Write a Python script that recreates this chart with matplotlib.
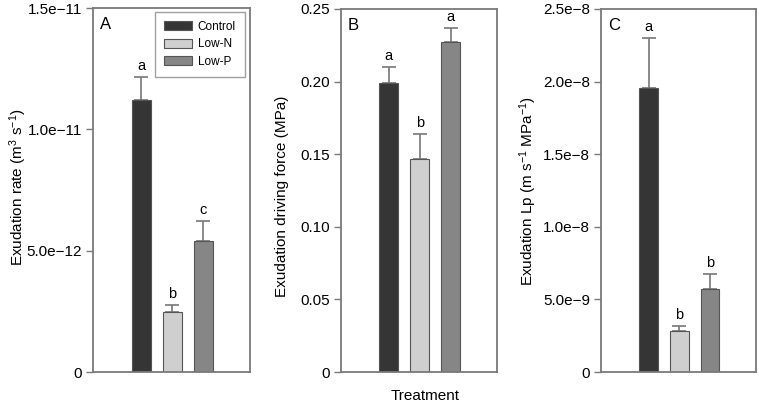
import matplotlib
matplotlib.use("Agg")
import matplotlib.pyplot as plt
from matplotlib.patches import Patch

plt.rcParams['font.family'] = ['Liberation Sans', 'DejaVu Sans']
plt.rcParams['mathtext.default'] = 'regular'

treatments = ["Control", "Low-N", "Low-P"]
colors = ["#353535", "#cfcfcf", "#868686"]

rate = [1.121e-11, 2.48e-12, 5.39e-12]
rate_err = [0.095e-11, 0.28e-12, 0.82e-12]
rate_letters = ["a", "b", "c"]
rate_ticks = [0, 5e-12, 1e-11, 1.5e-11]
rate_ticklabels = ["0", "5.0e\u221212", "1.0e\u221211", "1.5e\u221211"]

force = [0.1988, 0.1469, 0.2273]
force_err = [0.011, 0.017, 0.0096]
force_letters = ["a", "b", "a"]
force_ticks = [0, 0.05, 0.10, 0.15, 0.20, 0.25]
force_ticklabels = ["0", "0.05", "0.10", "0.15", "0.20", "0.25"]

lp = [1.959e-8, 2.80e-9, 5.73e-9]
lp_err = [0.34e-8, 0.36e-9, 0.99e-9]
lp_letters = ["a", "b", "b"]
lp_ticks = [0, 5e-9, 1e-8, 1.5e-8, 2e-8, 2.5e-8]
lp_ticklabels = ["0", "5.0e\u22129", "1.0e\u22128", "1.5e\u22128", "2.0e\u22128", "2.5e\u22128"]

W, H = 759, 405
fig = plt.figure(figsize=(W / 100, H / 100), dpi=100)

def ax_at(x0, x1, y0, y1):
    return fig.add_axes([x0 / W, 1 - y1 / H, (x1 - x0) / W, (y1 - y0) / H])

panels = [
    (ax_at(93, 250, 8, 372), rate, rate_err, rate_letters, rate_ticks, rate_ticklabels,
     "Exudation rate (m$^3$ s$^{\u22121}$)", "A", (-0.478, 0.507)),
    (ax_at(341, 497, 9, 372), force, force_err, force_letters, force_ticks, force_ticklabels,
     "Exudation driving force (MPa)", "B", (-0.378, 0.485)),
    (ax_at(601, 756, 9, 372), lp, lp_err, lp_letters, lp_ticks, lp_ticklabels,
     "Exudation Lp (m s$^{\u22121}$ MPa$^{\u22121}$)", "C", (-0.471, 0.50)),
]

spine_col = "#7a7a7a"
x = [0, 1, 2]
for ax, vals, errs, letters, ticks, tlabels, ylabel, plabel, lc in panels:
    ax.bar(x, vals, width=0.61, color=colors, edgecolor="#555555", linewidth=0.8, zorder=2)
    ax.errorbar(x, vals, yerr=[[0, 0, 0], errs], fmt="none", ecolor="#777777",
                elinewidth=1.2, capsize=5, capthick=1.2, zorder=1)
    top = ticks[-1]
    for xi, v, e, l in zip(x, vals, errs, letters):
        ax.text(xi, v + e + top * 0.012, l, ha="center", va="bottom", fontsize=10.5)
    ax.set_xlim(-1.55, 3.5)
    ax.set_ylim(0, top)
    ax.set_yticks(ticks)
    ax.set_yticklabels(tlabels, fontsize=11)
    ax.set_xticks([])
    ax.tick_params(axis="y", direction="out", length=5, width=1, color=spine_col, pad=3)
    for s in ax.spines.values():
        s.set_color(spine_col)
        s.set_linewidth(1.3)
    ax.set_ylabel(ylabel, fontsize=11, va="center")
    ax.yaxis.set_label_coords(lc[0], lc[1])
    ax.text(0.045, 0.975, plabel, transform=ax.transAxes, ha="left", va="top", fontsize=12)

axA = panels[0][0]
handles = [Patch(facecolor=c, edgecolor="#555555", linewidth=0.8) for c in colors]
leg = axA.legend(handles, treatments, loc="upper left", bbox_to_anchor=(0.395, 0.99),
                 fontsize=8.5, frameon=True, fancybox=False, handlelength=2.3,
                 handleheight=0.8, borderpad=0.8, labelspacing=0.45, handletextpad=0.5,
                 borderaxespad=0)
leg.get_frame().set_edgecolor("#888888")
leg.get_frame().set_linewidth(1.0)
leg.set_zorder(0)

fig.text(425.5 / W, 1 - 396 / H, "Treatment", ha="center", va="center", fontsize=11)

fig.savefig("out.png", dpi=100)
